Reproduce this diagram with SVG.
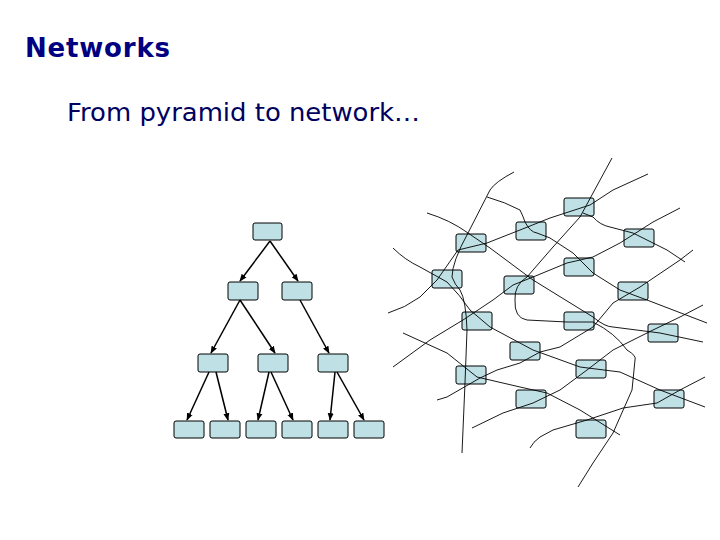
<svg xmlns="http://www.w3.org/2000/svg" width="720" height="540" viewBox="0 0 720 540">
<style>
.b{fill:#bfe0e5;stroke:#000;stroke-width:1}
.a{stroke:#000;stroke-width:1.5;fill:none;marker-end:url(#ar)}
.n{stroke:#000;stroke-width:0.9;fill:none}
</style>
<defs><marker id="ar" viewBox="0 0 10 10" refX="9" refY="5" markerWidth="5" markerHeight="5" orient="auto"><path d="M0,1 L10,5 L0,9 Z" fill="#000"/></marker></defs>
<rect width="720" height="540" fill="#fff"/>
<text x="25" y="57" font-family="DejaVu Sans, sans-serif" font-weight="bold" font-size="26" fill="#000080" textLength="145">Networks</text>
<text x="67" y="121" font-family="DejaVu Sans, sans-serif" font-size="25" fill="#000060" textLength="353" lengthAdjust="spacingAndGlyphs">From pyramid to network…</text>
<g id="pyramid">
<rect id="p1" class="b" x="253" y="223" width="29" height="17" rx="2"/>
<rect id="p2" class="b" x="228" y="282" width="30" height="18" rx="2"/>
<rect id="p3" class="b" x="282" y="282" width="30" height="18" rx="2"/>
<rect id="p4" class="b" x="198" y="354" width="30" height="18" rx="2"/>
<rect id="p5" class="b" x="258" y="354" width="30" height="18" rx="2"/>
<rect id="p6" class="b" x="318" y="354" width="30" height="18" rx="2"/>
<rect id="p7" class="b" x="174" y="421" width="30" height="17" rx="2"/>
<rect id="p8" class="b" x="210" y="421" width="30" height="17" rx="2"/>
<rect id="p9" class="b" x="246" y="421" width="30" height="17" rx="2"/>
<rect id="p10" class="b" x="282" y="421" width="30" height="17" rx="2"/>
<rect id="p11" class="b" x="318" y="421" width="30" height="17" rx="2"/>
<rect id="p12" class="b" x="354" y="421" width="30" height="17" rx="2"/>
</g>
<g id="network">
<rect id="n1" class="b" x="564" y="198" width="30" height="18" rx="2"/>
<rect id="n2" class="b" x="516" y="222" width="30" height="18" rx="2"/>
<rect id="n3" class="b" x="624" y="229" width="30" height="18" rx="2"/>
<rect id="n4" class="b" x="456" y="234" width="30" height="18" rx="2"/>
<rect id="n5" class="b" x="564" y="258" width="30" height="18" rx="2"/>
<rect id="n6" class="b" x="432" y="270" width="30" height="18" rx="2"/>
<rect id="n7" class="b" x="504" y="276" width="30" height="18" rx="2"/>
<rect id="n8" class="b" x="618" y="282" width="30" height="18" rx="2"/>
<rect id="n9" class="b" x="462" y="312" width="30" height="18" rx="2"/>
<rect id="n10" class="b" x="564" y="312" width="30" height="18" rx="2"/>
<rect id="n11" class="b" x="648" y="324" width="30" height="18" rx="2"/>
<rect id="n12" class="b" x="510" y="342" width="30" height="18" rx="2"/>
<rect id="n13" class="b" x="576" y="360" width="30" height="18" rx="2"/>
<rect id="n14" class="b" x="456" y="366" width="30" height="18" rx="2"/>
<rect id="n15" class="b" x="516" y="390" width="30" height="18" rx="2"/>
<rect id="n16" class="b" x="654" y="390" width="30" height="18" rx="2"/>
<rect id="n17" class="b" x="576" y="420" width="30" height="18" rx="2"/>
</g>
<g id="connectors">
<path class="a" d="M270,241 L240,281"/><path class="a" d="M270,241 L298,281"/>
<path class="a" d="M240,300 L211,353"/><path class="a" d="M240,300 L275,353"/><path class="a" d="M300,300 L329,353"/>
<path class="a" d="M209,372 L187,420"/><path class="a" d="M216,372 L228,420"/>
<path class="a" d="M269,372 L258,420"/><path class="a" d="M271,372 L293,420"/>
<path class="a" d="M335,372 L330,420"/><path class="a" d="M337,372 L364,420"/>
<path class="n" d="M514,172 Q495,182 490,190 L468,233 Q452,262 452,277 Q455,285 460,290 Q466,300 467,330 L465,383 L462,453"/>
<path class="n" d="M612,158 L580,217 L553,247 L527,277 Q514,285 515,300 Q514,318 527,320 L567,322 L593,322 Q615,333 627,350 Q637,356 635,360 L632,390 L613,433 L593,463 L578,487"/>
<path class="n" d="M427,213 Q450,220 468,233 L490,248 L533,280 L593,317 Q605,327 613,327 L660,333 L703,342"/>
<path class="n" d="M393,248 Q405,260 420,267 L447,282 Q460,295 470,310 L490,327 L533,350 L580,367 L620,372 L660,390 L705,407"/>
<path class="n" d="M487,197 Q505,202 520,210 Q523,216 525,222 Q530,232 537,233 L550,238 L573,253 L593,273 L620,290 L647,300 L707,323"/>
<path class="n" d="M648,174 L613,190 L590,205 L550,218 L520,230 L487,243 L458,250 L437,280 L420,297 Q405,308 388,313"/>
<path class="n" d="M583,213 L593,217 Q600,225 610,227 L633,233 L667,250 L685,262"/>
<path class="n" d="M393,367 L430,340 L463,320 L493,300 L513,285 L533,277 L567,263 L593,257 L620,243 L653,222 L680,208"/>
<path class="n" d="M693,250 L680,260 L640,287 L613,303 L593,327 L560,347 L540,352 L520,363 L497,370 L480,378 L447,397 L437,400"/>
<path class="n" d="M403,333 L447,353 L477,377 L520,387 L547,393 L580,410 L620,435"/>
<path class="n" d="M703,305 L680,317 L653,330 L613,350 L587,370 L560,390 L533,403 L503,413 L472,428"/>
<path class="n" d="M705,377 L680,390 L657,403 L623,408 L587,420 L553,430 L540,437 Q533,442 530,448"/>
</g>
</svg>
